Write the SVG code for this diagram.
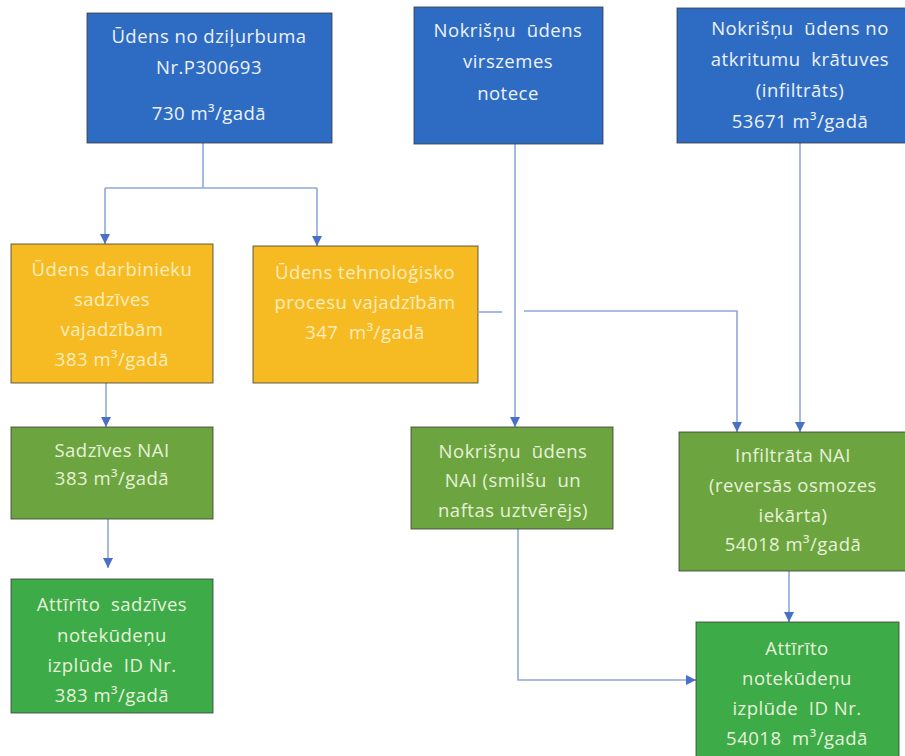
<svg xmlns="http://www.w3.org/2000/svg" width="905" height="756" viewBox="0 0 905 756">
  <style>
    .box { stroke: #3b3b3b; stroke-width: 1; stroke-opacity: 0.8; }
    .blue { fill: #2E6CC4; }
    .yellow { fill: #F6BB22; }
    .olive { fill: #6CA53F; }
    .green { fill: #3CAB48; }
    text { font-family: "Open Sans", "Liberation Sans", sans-serif; font-size: 18.5px; letter-spacing: 0.5px; text-anchor: middle; white-space: pre; }
    .tb { fill: #EDF2FA; }
    .ty { fill: #FCEDBE; }
    .tg { fill: #E8F1DA; }
    .conn { fill: none; stroke: #8FA9DB; stroke-width: 1.6; }
  </style>
  <defs>
    <marker id="arrow" markerUnits="userSpaceOnUse" markerWidth="11" markerHeight="10" refX="10" refY="5" orient="auto">
      <path d="M0,0 L10,5 L0,10 z" fill="#4A6FC6"/>
    </marker>
  </defs>

  <rect width="905" height="756" fill="#ffffff"/>

  <!-- connectors -->
  <g id="connectors">
    <path class="conn" d="M203 143 V188"/>
    <path class="conn" d="M105 188 H317"/>
    <path class="conn" d="M105 188 V244" marker-end="url(#arrow)"/>
    <path class="conn" d="M317 188 V246" marker-end="url(#arrow)"/>
    <path class="conn" d="M515 144 V427" marker-end="url(#arrow)"/>
    <path class="conn" d="M800 143 V432" marker-end="url(#arrow)"/>
    <path class="conn" d="M479 312 H502"/>
    <path class="conn" d="M524 311 H737 V432" marker-end="url(#arrow)"/>
    <path class="conn" d="M106 383 V427" marker-end="url(#arrow)"/>
    <path class="conn" d="M108 519 V568" marker-end="url(#arrow)"/>
    <path class="conn" d="M789 571 V622" marker-end="url(#arrow)"/>
    <path class="conn" d="M518 529 V680 H696" marker-end="url(#arrow)"/>
  </g>

  <!-- source nodes -->
  <g id="n-dzilurbums">
    <rect class="box blue" x="87" y="13" width="245" height="130"/>
    <text class="tb" x="209" y="43">Ūdens no dziļurbuma</text>
    <text class="tb" x="209" y="74">Nr.P300693</text>
    <text class="tb" x="209" y="120">730 m³/gadā</text>
  </g>
  <g id="n-virszemes">
    <rect class="box blue" x="414" y="7" width="189" height="137"/>
    <text class="tb" x="508" y="37">Nokrišņu  ūdens</text>
    <text class="tb" x="508" y="68">virszemes</text>
    <text class="tb" x="508" y="100">notece</text>
  </g>
  <g id="n-kratuve">
    <rect class="box blue" x="677" y="8" width="232" height="135"/>
    <text class="tb" x="800" y="35">Nokrišņu  ūdens no</text>
    <text class="tb" x="800" y="66">atkritumu  krātuves</text>
    <text class="tb" x="800" y="97">(infiltrāts)</text>
    <text class="tb" x="800" y="128">53671 m³/gadā</text>
  </g>

  <!-- water use nodes -->
  <g id="n-sadzive">
    <rect class="box yellow" x="11" y="244" width="202" height="139"/>
    <text class="ty" x="112" y="276">Ūdens darbinieku</text>
    <text class="ty" x="112" y="306">sadzīves</text>
    <text class="ty" x="112" y="336">vajadzībām</text>
    <text class="ty" x="112" y="366">383 m³/gadā</text>
  </g>
  <g id="n-tehnologija">
    <rect class="box yellow" x="253" y="246" width="225" height="137"/>
    <text class="ty" x="365" y="279">Ūdens tehnoloģisko</text>
    <text class="ty" x="365" y="309">procesu vajadzībām</text>
    <text class="ty" x="365" y="339">347  m³/gadā</text>
  </g>

  <!-- treatment nodes -->
  <g id="n-sadzives-nai">
    <rect class="box olive" x="11" y="427" width="202" height="92"/>
    <text class="tg" x="112" y="457">Sadzīves NAI</text>
    <text class="tg" x="112" y="485">383 m³/gadā</text>
  </g>
  <g id="n-nokrisnu-nai">
    <rect class="box olive" x="411" y="427" width="202" height="102"/>
    <text class="tg" x="513" y="458">Nokrišņu  ūdens</text>
    <text class="tg" x="513" y="487">NAI (smilšu  un</text>
    <text class="tg" x="513" y="517">naftas uztvērējs)</text>
  </g>
  <g id="n-infiltrata-nai">
    <rect class="box olive" x="679" y="432" width="230" height="139"/>
    <text class="tg" x="793" y="462">Infiltrāta NAI</text>
    <text class="tg" x="793" y="492">(reversās osmozes</text>
    <text class="tg" x="793" y="522">iekārta)</text>
    <text class="tg" x="793" y="551">54018 m³/gadā</text>
  </g>

  <!-- discharge nodes -->
  <g id="n-izplude-sadzive">
    <rect class="box green" x="11" y="579" width="202" height="134"/>
    <text class="tg" x="112" y="611">Attīrīto  sadzīves</text>
    <text class="tg" x="112" y="642">notekūdeņu</text>
    <text class="tg" x="112" y="672">izplūde  ID Nr.</text>
    <text class="tg" x="112" y="702">383 m³/gadā</text>
  </g>
  <g id="n-izplude">
    <rect class="box green" x="696" y="622" width="203" height="140"/>
    <text class="tg" x="797" y="655">Attīrīto</text>
    <text class="tg" x="797" y="685">notekūdeņu</text>
    <text class="tg" x="797" y="715">izplūde  ID Nr.</text>
    <text class="tg" x="797" y="745">54018  m³/gadā</text>
  </g>
</svg>
